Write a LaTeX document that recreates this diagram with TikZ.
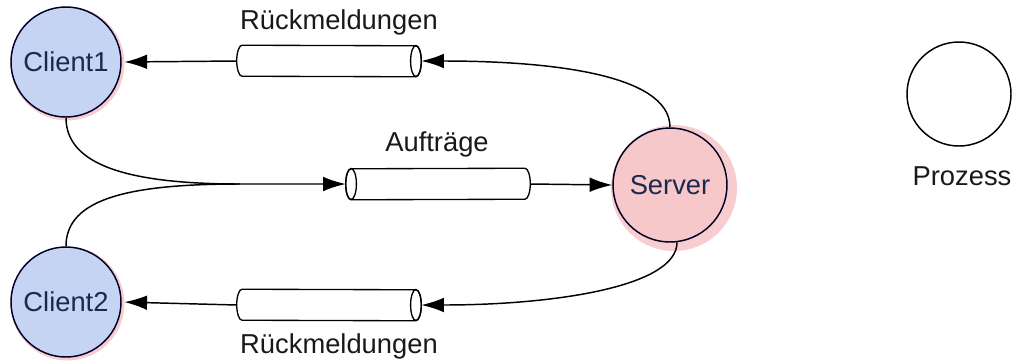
\documentclass[tikz,border=0pt]{standalone}
\usepackage{fontspec}
\setmainfont{Liberation Sans}
\usetikzlibrary{arrows.meta,calc,backgrounds}
\definecolor{cblue}{HTML}{C6D4F4}
\definecolor{spink}{HTML}{F6C8CA}
\definecolor{halo}{HTML}{F7CDCF}
\definecolor{ctext}{HTML}{1C2850}
\tikzset{
 proc/.style={circle, draw=black!85!blue, line width=1.1pt, inner sep=0pt, minimum size=82.5pt, font=\fontsize{20.5}{24}\selectfont, text=ctext},
 client/.style={proc, fill=cblue},
 server/.style={proc, fill=spink, minimum size=85.5pt},
 pipebox/.style={inner sep=0pt, minimum width=138pt, minimum height=23.25pt},
 lbl/.style={font=\fontsize{20.5}{24}\selectfont, text=black!90},
 arr/.style={line width=1.1pt, -{Latex[length=17pt,width=11pt]}},
 conn/.style={line width=1.1pt},
 pipeline/.style={line width=1pt},
}
\newcommand\drawpipeR[1]{%
 \draw[pipeline, fill=white] ($(#1.north west)+(4pt,0)$) arc[start angle=90,end angle=270,x radius=4pt,y radius=11.625pt] -- ($(#1.south east)+(-4pt,0)$) arc[start angle=-90,end angle=90,x radius=4pt,y radius=11.625pt] -- cycle;
 \draw[pipeline] ($(#1.east)+(-4pt,0)$) ellipse[x radius=4pt,y radius=11.625pt];}
\newcommand\drawpipeL[1]{%
 \draw[pipeline, fill=white] ($(#1.north east)+(-4pt,0)$) arc[start angle=90,end angle=-90,x radius=4pt,y radius=11.625pt] -- ($(#1.south west)+(4pt,0)$) arc[start angle=270,end angle=90,x radius=4pt,y radius=11.625pt] -- cycle;
 \draw[pipeline] ($(#1.west)+(4pt,0)$) ellipse[x radius=4pt,y radius=11.625pt];}
\begin{document}
\begin{tikzpicture}[x=0.75pt,y=-0.75pt]
\useasboundingbox (0,0) rectangle (1014,362);
\node[client] (c1) at (66,62) {Client1};
\node[client] (c2) at (66,302) {Client2};
\node[server] (s) at (670,185) {Server};
\node[proc, fill=white, draw=black, minimum size=78pt] (p) at (959,94) {};
\node[lbl] (pl) at (962,176) {Prozess};
\begin{scope}[on background layer]
\fill[halo] ($(c1.center)+(1.5,1.5)$) circle[radius=42.75pt];
\fill[halo] ($(c2.center)+(1.5,1.5)$) circle[radius=42.75pt];
\fill[halo] ($(s.center)+(4,3)$) circle[radius=47.25pt];
\end{scope}
\node[pipebox] (p1) at (329,61) {};
\node[pipebox] (p2) at (438,184) {};
\node[pipebox] (p3) at (329,305) {};
\drawpipeR{p1}
\drawpipeL{p2}
\drawpipeR{p3}
\node[lbl] (l1) at (339,22) {Rückmeldungen};
\node[lbl] (l2) at (437,144) {Aufträge};
\node[lbl] (l3) at (339,346) {Rückmeldungen};
\coordinate (m) at (240,184);
\draw[arr, shorten >=2pt] (p1.west) -- (c1.east);
\draw[arr] (s.north) .. controls +(0,-55) and +(120,0) .. (p1.east);
\draw[arr] (c1.south) .. controls +(0,48) and +(-110,0) .. (m) -- (p2.west);
\draw[conn] (c2.north) .. controls +(0,-48) and +(-110,0) .. (m);
\draw[arr] (p2.east) -- (s.west);
\draw[arr] (s.-83) .. controls +(0,45) and +(130,0) .. (p3.east);
\draw[arr, shorten >=2pt] (p3.west) -- (c2.east);
\end{tikzpicture}
\end{document}
